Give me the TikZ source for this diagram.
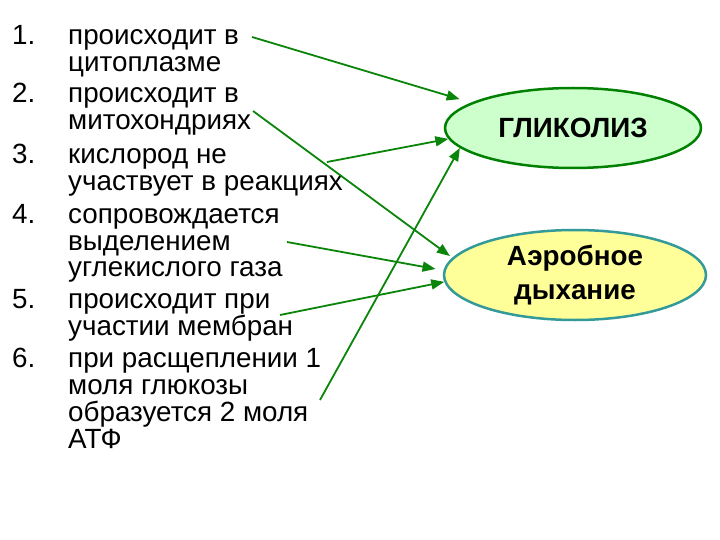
\documentclass[tikz,border=0pt]{standalone}
\usepackage{fontspec}
\setmainfont{Liberation Sans}
\usetikzlibrary{shapes.geometric}
\usetikzlibrary{arrows.meta}
\definecolor{glfill}{HTML}{CCFFCC}
\definecolor{gldraw}{HTML}{008000}
\definecolor{aefill}{HTML}{FFFF99}
\definecolor{aedraw}{HTML}{339999}
\definecolor{argreen}{HTML}{0A850A}
\tikzset{it/.style={font=\fontsize{27.8}{27}\selectfont, inner sep=0pt, anchor=base west}}
\tikzset{ov/.style={ellipse, inner sep=0pt, line width=2.5pt, font=\fontsize{27.8}{33.5}\selectfont\bfseries, align=center}}
\tikzset{ar/.style={draw=argreen, line width=1.8pt, -{Triangle[length=13pt,width=10pt]}}}

\begin{document}
\begin{tikzpicture}[x=1pt,y=-1pt]
    \useasboundingbox (0,0) rectangle (720,540);
    \node[it] (n1) at (12,45) {1.};
    \node[it] (n2) at (12,103) {2.};
    \node[it] (n3) at (12,164) {3.};
    \node[it] (n4) at (12,223) {4.};
    \node[it] (n5) at (12,308) {5.};
    \node[it] (n6) at (12,367) {6.};
    \node[it] (t1) at (68,45) {\parbox[t]{340pt}{происходит в\\цитоплазме}};
    \node[it] (t2) at (68,103) {\parbox[t]{340pt}{происходит в\\митохондриях}};
    \node[it] (t3) at (68,164) {\parbox[t]{340pt}{кислород не\\участвует в реакциях}};
    \node[it] (t4) at (68,223) {\parbox[t]{340pt}{сопровождается\\выделением\\углекислого газа}};
    \node[it] (t5) at (68,308) {\parbox[t]{340pt}{происходит при\\участии мембран}};
    \node[it] (t6) at (68,367) {\parbox[t]{340pt}{при расщеплении 1\\моля глюкозы\\образуется 2 моля\\АТФ}};
    \node[ov, fill=glfill, draw=gldraw, minimum width=256pt, minimum height=80pt] (g) at (573,128) {ГЛИКОЛИЗ};
    \node[ov, fill=aefill, draw=aedraw, minimum width=262pt, minimum height=90pt] (a) at (575,275) {Аэробное\\дыхание};
    \coordinate (s1) at (252,37);
    \coordinate (s2) at (253,111);
    \coordinate (s3) at (327,162);
    \coordinate (s4) at (287,242);
    \coordinate (s5) at (280,315);
    \coordinate (s6) at (320,400);
    \draw[ar, shorten >=12pt] (s1)--(g.166);
    \draw[ar, shorten >=3pt] (s2)--(a.172);
    \draw[ar] (s3)--(g.185);
    \draw[ar, shorten >=8pt] (s4)--(a.178);
    \draw[ar] (s5)--(a.183);
    \draw[ar] (s6)--(g.190);
\end{tikzpicture}
\end{document}
